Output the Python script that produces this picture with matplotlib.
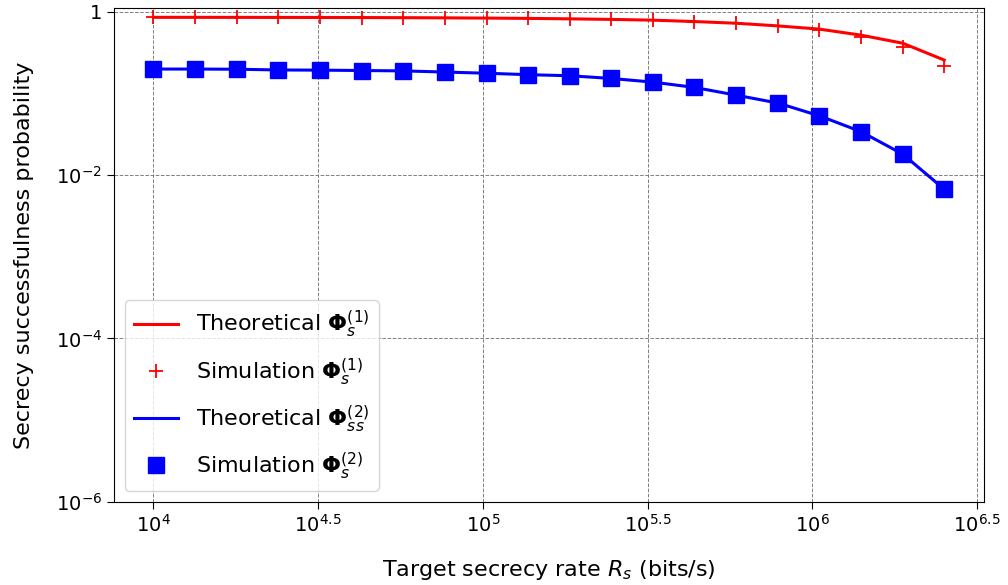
import numpy as np
import matplotlib
matplotlib.use("Agg")
import matplotlib.pyplot as plt

plt.rcParams['font.family'] = ['DejaVu Sans']
plt.rcParams['mathtext.fontset'] = 'dejavusans'

# log10 of the target secrecy rate (bits/s)
rate_exp = [4.000, 4.126, 4.253, 4.379, 4.505, 4.632, 4.758, 4.884, 5.011, 5.137,
            5.263, 5.389, 5.516, 5.642, 5.768, 5.895, 6.021, 6.147, 6.274, 6.400]

theory_1 = [0.850, 0.850, 0.849, 0.848, 0.847, 0.845, 0.842, 0.838, 0.832, 0.825,
            0.815, 0.802, 0.785, 0.755, 0.720, 0.668, 0.610, 0.515, 0.410, 0.255]
sim_1 = [0.850, 0.850, 0.849, 0.848, 0.847, 0.845, 0.842, 0.838, 0.832, 0.825,
         0.815, 0.800, 0.782, 0.752, 0.718, 0.665, 0.595, 0.490, 0.365, 0.215]
theory_2 = [0.198, 0.198, 0.197, 0.193, 0.192, 0.190, 0.188, 0.182, 0.176, 0.169,
            0.164, 0.152, 0.137, 0.118, 0.095, 0.076, 0.053, 0.034, 0.018, 0.0067]
sim_2 = [0.198, 0.198, 0.197, 0.193, 0.192, 0.190, 0.188, 0.182, 0.176, 0.169,
         0.164, 0.152, 0.137, 0.118, 0.095, 0.076, 0.053, 0.034, 0.018, 0.0067]

xtick_exp = [4, 4.5, 5, 5.5, 6, 6.5]
xtick_labels = ['$10^{4}$', '$10^{4.5}$', '$10^{5}$', '$10^{5.5}$', '$10^{6}$', '$10^{6.5}$']
ytick_vals = [1e-6, 1e-4, 1e-2, 1]
ytick_labels = ['$10^{-6}$', '$10^{-4}$', '$10^{-2}$', '1']

rates = 10 ** np.array(rate_exp)

fig = plt.figure(figsize=(10.08, 5.85), dpi=100)
ax = fig.add_axes([0.113, 0.142, 0.863, 0.844])

ax.plot(rates, theory_1, '-', color='red', lw=2.2, label=r'Theoretical $\mathbf{\Phi}_s^{(1)}$')
ax.plot(rates, sim_1, '+', color='red', ms=10, mew=1.3, label=r'Simulation $\mathbf{\Phi}_s^{(1)}$')
ax.plot(rates, theory_2, '-', color='blue', lw=2.2, label=r'Theoretical $\mathbf{\Phi}_{ss}^{(2)}$')
ax.plot(rates, sim_2, 's', color='blue', ms=11, label=r'Simulation $\mathbf{\Phi}_s^{(2)}$')

ax.set_xscale('log')
ax.set_yscale('log')
ax.set_ylim(1e-6, 1.1)
ax.set_xticks(10 ** np.array(xtick_exp))
ax.set_xticklabels(xtick_labels)
ax.set_yticks(ytick_vals)
ax.set_yticklabels(ytick_labels)
ax.minorticks_off()
ax.tick_params(labelsize=14, length=5)

ax.grid(True, which='major', linestyle='--', color='gray', lw=0.7)
ax.set_xlabel(r'Target secrecy rate $R_s$ (bits/s)', fontsize=16, labelpad=16)
ax.set_ylabel('Secrecy successfulness probability', fontsize=16, labelpad=16)

ax.legend(loc='lower left', fontsize=16, labelspacing=0.72, handlelength=2.0)

fig.savefig('out.png', dpi=100)
